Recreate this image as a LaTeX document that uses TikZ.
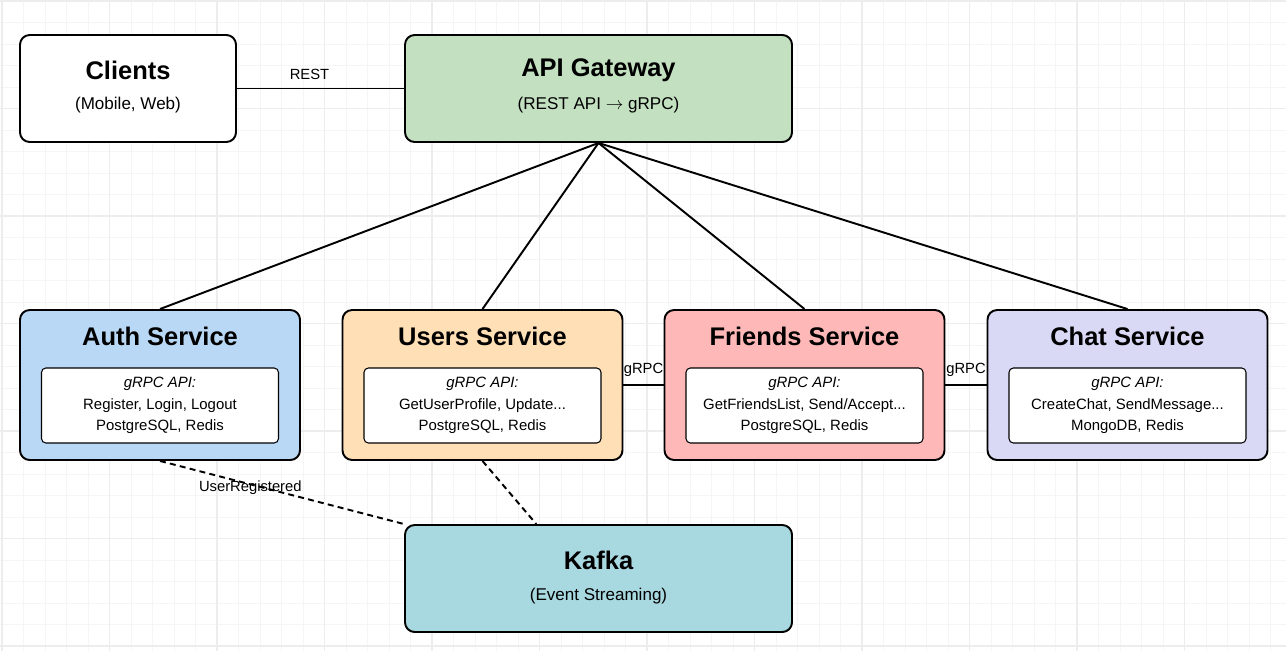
\documentclass[tikz,border=0pt]{standalone}
\usepackage{fontspec}
\setmainfont{Liberation Sans}
\usepackage{xcolor}
\usepackage{tikz}
\usetikzlibrary{positioning, calc}

\definecolor{gatewayfill}{RGB}{195,224,192}
\definecolor{authfill}{RGB}{184,216,245}
\definecolor{usersfill}{RGB}{255,224,182}
\definecolor{friendsfill}{RGB}{255,184,184}
\definecolor{chatfill}{RGB}{217,217,245}
\definecolor{kafkafill}{RGB}{168,216,224}

\begin{document}
\begin{tikzpicture}[
    box/.style={draw, line width=1.1pt, rounded corners=5.5pt},
    wide/.style={box, minimum width=7.74cm, minimum height=2.14cm},
    service/.style={box, minimum width=5.6cm, minimum height=3cm},
    api/.style={draw, line width=0.6pt, rounded corners=2.5pt, fill=white, minimum width=4.74cm, minimum height=1.5cm, align=center, font=\fontsize{8.5}{12.2}\selectfont},
    title/.style={font=\fontsize{14.5}{17}\selectfont\bfseries},
    sub/.style={font=\fontsize{9.7}{12}\selectfont},
    lbl/.style={font=\fontsize{8.4}{10}\selectfont},
    link/.style={line width=1.1pt},
    event/.style={link, dash pattern=on 3.4pt off 2.4pt},
    minorgrid/.style={draw=black!4, line width=0.5pt},
    majorgrid/.style={draw=black!7, line width=0.6pt}
]
    \useasboundingbox (0,0) rectangle (25.72,-13.02);
    \fill[white] (0,0) rectangle (25.72,-13.02);

    % Grid paper
    \begin{scope}[shift={(0.04,-0.02)}]
        \draw[minorgrid, step=0.43] (-0.04,0.02) grid (25.68,-13.0);
        \draw[majorgrid, step=2.15] (-0.04,0.02) grid (25.68,-13.0);
    \end{scope}

    % Clients
    \node[box, fill=white, minimum width=4.32cm, minimum height=2.14cm] (clients) at (2.56,-1.77) {};
    \node[title] (clientsTitle) at ([yshift=0.37cm]clients.center) {Clients};
    \node[sub] (clientsSub) at ([yshift=-0.34cm]clients.center) {(Mobile, Web)};

    % API Gateway
    \node[wide, fill=gatewayfill] (gateway) at (11.97,-1.77) {};
    \node[title] (gatewayTitle) at ([yshift=0.37cm]gateway.center) {API Gateway};
    \node[sub] (gatewaySub) at ([yshift=-0.34cm]gateway.center) {(REST API $\rightarrow$ gRPC)};

    % Services
    \node[service, fill=authfill] (auth) at (3.2,-7.7) {};
    \node[title] (authTitle) at ([yshift=0.98cm]auth.center) {Auth Service};
    \node[api] (authApi) at ([yshift=-0.41cm]auth.center) {\textit{gRPC API:}\\Register, Login, Logout\\PostgreSQL, Redis};

    \node[service, fill=usersfill] (users) at (9.65,-7.7) {};
    \node[title] (usersTitle) at ([yshift=0.98cm]users.center) {Users Service};
    \node[api] (usersApi) at ([yshift=-0.41cm]users.center) {\textit{gRPC API:}\\GetUserProfile, Update...\\PostgreSQL, Redis};

    \node[service, fill=friendsfill] (friends) at (16.09,-7.7) {};
    \node[title] (friendsTitle) at ([yshift=0.98cm]friends.center) {Friends Service};
    \node[api] (friendsApi) at ([yshift=-0.41cm]friends.center) {\textit{gRPC API:}\\GetFriendsList, Send/Accept...\\PostgreSQL, Redis};

    \node[service, fill=chatfill] (chat) at (22.55,-7.7) {};
    \node[title] (chatTitle) at ([yshift=0.98cm]chat.center) {Chat Service};
    \node[api] (chatApi) at ([yshift=-0.41cm]chat.center) {\textit{gRPC API:}\\CreateChat, SendMessage...\\MongoDB, Redis};

    % Kafka
    \node[wide, fill=kafkafill] (kafka) at (11.97,-11.57) {};
    \node[title] (kafkaTitle) at ([yshift=0.37cm]kafka.center) {Kafka};
    \node[sub] (kafkaSub) at ([yshift=-0.36cm]kafka.center) {(Event Streaming)};

    % Connections
    \draw[link] (clients.east) -- node[lbl, above=1pt, xshift=-0.22cm] (restLbl) {REST} (gateway.west);
    \draw[link] (gateway.south) -- (auth.north);
    \draw[link] (gateway.south) -- (users.north);
    \draw[link] (gateway.south) -- (friends.north);
    \draw[link] (gateway.south) -- (chat.north);
    \draw[link] (users.east) -- node[lbl, above=1pt] (grpcLblA) {gRPC} (friends.west);
    \draw[link] (friends.east) -- node[lbl, above=1pt] (grpcLblB) {gRPC} (chat.west);

    % Events
    \coordinate (kafkaIn) at ($(kafka.north west)!0.34!(kafka.north east)$);
    \draw[event] (auth.south) -- node[lbl, pos=0.37, yshift=-0.06cm] (eventLbl) {UserRegistered} (kafka.north west);
    \draw[event] (users.south) -- (kafkaIn);
\end{tikzpicture}
\end{document}
